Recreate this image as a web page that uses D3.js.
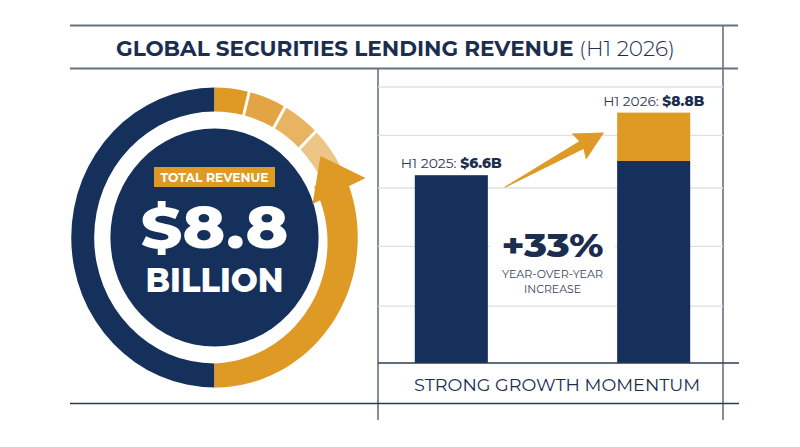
<!DOCTYPE html>
<html>
<head>
<meta charset="utf-8">
<script src="https://cdn.jsdelivr.net/npm/d3@7"></script>
<style>
  body { margin: 0; background: #fff; }
  text { font-family: Montserrat, Inter, "Open Sans", sans-serif; }
</style>
</head>
<body>
<svg id="chart" width="800" height="447"></svg>
<script>
// data
const categories = ["H1 2025", "H1 2026"];
const totals = [6.6, 8.8];
const baseParts = [6.6, 7.1];      // navy part of each bar
const gridValues = [2, 4.1, 6.15, 8, 9.7];
const growthPct = 33;
const totalRevenue = 8.8;
// faded segments on the top right of the ring, in degrees
const ringSteps = [14, 15.5, 15.5, 17];
const ringColors = ["#df9a26", "#e3a544", "#e8b462", "#edc586"];

const navy = "#15305a";
const orange = "#df9a26";
const ink = "#1c2e4f";
const rule = "#67727f";

const svg = d3.select("#chart");

// make a text fit a given width (font here is narrower than the original)
function fit(sel, w) {
  sel.attr("textLength", w).attr("lengthAdjust", "spacingAndGlyphs");
  return sel;
}

// ---- frame lines
const frame = svg.append("g").attr("fill", "none");
frame.append("line").attr("x1", 70).attr("x2", 738).attr("y1", 25.5).attr("y2", 25.5)
  .attr("stroke", rule).attr("stroke-width", 2);
frame.append("line").attr("x1", 70).attr("x2", 738).attr("y1", 68.5).attr("y2", 68.5)
  .attr("stroke", rule).attr("stroke-width", 2);
frame.append("line").attr("x1", 723).attr("x2", 723).attr("y1", 25).attr("y2", 420)
  .attr("stroke", rule).attr("stroke-width", 1.6);
frame.append("line").attr("x1", 378).attr("x2", 378).attr("y1", 69).attr("y2", 420)
  .attr("stroke", rule).attr("stroke-width", 1.6);

// ---- title
const title = svg.append("text").attr("x", 395.5).attr("y", 56)
  .attr("text-anchor", "middle").attr("fill", ink).attr("font-size", 21);
title.append("tspan").attr("font-weight", 700).text("GLOBAL SECURITIES LENDING REVENUE");
title.append("tspan").attr("font-weight", 300).text(" (H1 2026)");
fit(title, 559);

// ---- bar chart
const x = d3.scaleBand().domain(categories).range([381, 724])
  .paddingInner(0.639).paddingOuter(0.167);
const y = d3.scaleLinear().domain([0, 9.7]).range([363, 87]);

svg.append("g").selectAll("line").data(gridValues).join("line")
  .attr("x1", 378).attr("x2", 723)
  .attr("y1", d => y(d)).attr("y2", d => y(d))
  .attr("stroke", "#dde1e7").attr("stroke-width", 1.3);

const rows = categories.map((c, i) => ({ cat: c, total: totals[i], base: baseParts[i] }));

const bars = svg.append("g");
bars.selectAll("rect.base").data(rows).join("rect").attr("class", "base")
  .attr("x", d => x(d.cat)).attr("width", x.bandwidth())
  .attr("y", d => y(d.base)).attr("height", d => y(0) - y(d.base))
  .attr("fill", navy);
bars.selectAll("rect.top").data(rows.filter(d => d.total > d.base)).join("rect").attr("class", "top")
  .attr("x", d => x(d.cat)).attr("width", x.bandwidth())
  .attr("y", d => y(d.total)).attr("height", d => y(d.base) - y(d.total))
  .attr("fill", orange);

const labels = svg.append("g").selectAll("text").data(rows).join("text")
  .attr("x", d => x(d.cat) + x.bandwidth() / 2)
  .attr("y", d => y(d.total) - 7)
  .attr("text-anchor", "middle").attr("font-size", 13.5).attr("fill", ink);
labels.append("tspan").attr("font-weight", 400).attr("fill", "#2d3b55").text(d => d.cat + ": ");
labels.append("tspan").attr("font-weight", 800).text(d => "$" + d.total.toFixed(1) + "B");
labels.each(function () { fit(d3.select(this), 101); });

// growth arrow between the bars
const tail = [x(categories[0]) + x.bandwidth() + 17, y(totals[0]) + 12];
const tip = [x(categories[1]) - 13, y(totals[1]) + 20];
const ang = Math.atan2(tip[1] - tail[1], tip[0] - tail[0]);
const len = Math.hypot(tip[0] - tail[0], tip[1] - tail[1]);
const local = [[0, -0.5], [len - 26, -4.5], [len - 29, -15], [len, 0], [len - 29, 15], [len - 26, 4.5], [0, 0.5]];
svg.append("path")
  .attr("d", d3.line()(local))
  .attr("transform", `translate(${tail[0]},${tail[1]}) rotate(${ang * 180 / Math.PI})`)
  .attr("fill", orange);

// growth label
const midX = (x(categories[0]) + x.bandwidth() + x(categories[1])) / 2;
svg.append("rect").attr("x", midX - 62).attr("y", 238).attr("width", 124).attr("height", 20).attr("fill", "#fff");
fit(svg.append("text").attr("x", midX).attr("y", 256.5).attr("text-anchor", "middle")
  .attr("font-size", 33).attr("font-weight", 800).attr("fill", ink).text("+" + growthPct + "%"), 102);
fit(svg.append("text").attr("x", midX).attr("y", 278).attr("text-anchor", "middle")
  .attr("font-size", 11).attr("font-weight", 400).attr("fill", "#36445c").text("YEAR-OVER-YEAR"), 101);
fit(svg.append("text").attr("x", midX).attr("y", 292.7).attr("text-anchor", "middle")
  .attr("font-size", 11).attr("font-weight", 400).attr("fill", "#36445c").text("INCREASE"), 57);

// baseline and footer
svg.append("line").attr("x1", 378).attr("x2", 739).attr("y1", y(0)).attr("y2", y(0))
  .attr("stroke", "#2c3b55").attr("stroke-width", 1.6);
svg.append("line").attr("x1", 70).attr("x2", 739).attr("y1", 403.5).attr("y2", 403.5)
  .attr("stroke", "#2c3b55").attr("stroke-width", 1.6);
fit(svg.append("text").attr("x", 557).attr("y", 391).attr("text-anchor", "middle")
  .attr("font-size", 16.5).attr("font-weight", 400).attr("fill", ink).text("STRONG GROWTH MOMENTUM"), 286);

// ---- donut
const rad = d => d * Math.PI / 180;
const ring = svg.append("g").attr("transform", "translate(214.5,237.5) scale(0.955,1)");
const arc = d3.arc();

ring.append("circle").attr("r", 109).attr("fill", navy);
ring.append("path").attr("fill", navy)
  .attr("d", arc({ innerRadius: 126, outerRadius: 150, startAngle: Math.PI, endAngle: 2 * Math.PI }));

let a0 = 0;
const segs = ringSteps.map((s, i) => { const d = { start: a0, end: a0 + s, color: ringColors[i] }; a0 += s; return d; });
ring.selectAll("path.seg").data(segs).join("path").attr("class", "seg")
  .attr("fill", d => d.color)
  .attr("d", d => arc({ innerRadius: 126, outerRadius: 150, startAngle: rad(d.start), endAngle: rad(d.end) }));
ring.selectAll("line.sep").data(segs.slice(1)).join("line").attr("class", "sep")
  .attr("x1", d => 124 * Math.sin(rad(d.start))).attr("y1", d => -124 * Math.cos(rad(d.start)))
  .attr("x2", d => 152 * Math.sin(rad(d.start))).attr("y2", d => -152 * Math.cos(rad(d.start)))
  .attr("stroke", "#fff").attr("stroke-width", 3);

// orange arrow arc from the bottom up the right side, widening toward the head
const shaftAngles = d3.range(64, 180.5, 2);
ring.append("path").attr("fill", orange)
  .attr("d", d3.areaRadial()
    .angle(d => rad(d))
    .innerRadius(d => 116 + (d - 64) / (180 - 64) * 10)
    .outerRadius(150)(shaftAngles));
const head = [[137.7, 53.7], [169, 69.4], [108, 71.9]]
  .map(([r, a]) => [r * Math.sin(rad(a)), -r * Math.cos(rad(a))]);
ring.append("path").attr("fill", orange).attr("d", d3.line()(head) + "Z");

// texts inside the disk
const cx = 214.5;
svg.append("rect").attr("x", 154).attr("y", 167).attr("width", 121).attr("height", 20).attr("fill", orange);
fit(svg.append("text").attr("x", cx).attr("y", 181.8).attr("text-anchor", "middle")
  .attr("font-size", 13).attr("font-weight", 700).attr("fill", "#fff").text("TOTAL REVENUE"), 108);
fit(svg.append("text").attr("x", cx).attr("y", 248).attr("text-anchor", "middle")
  .attr("font-size", 57).attr("font-weight", 800).attr("fill", "#fff").text("$" + totalRevenue.toFixed(1)), 148);
fit(svg.append("text").attr("x", cx).attr("y", 292).attr("text-anchor", "middle")
  .attr("font-size", 34).attr("font-weight", 800).attr("fill", "#fff").text("BILLION"), 138);
</script>
</body>
</html>
